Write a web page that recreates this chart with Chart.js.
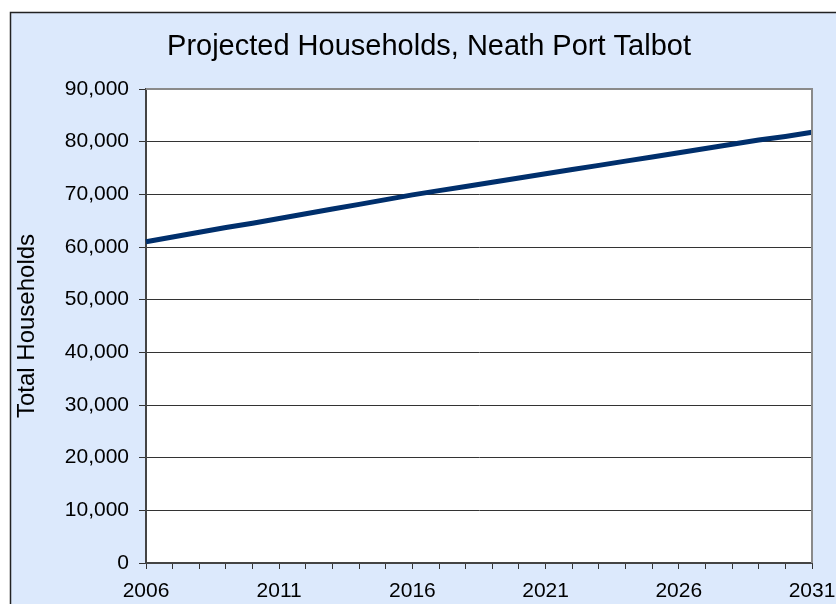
<!DOCTYPE html>
<html>
<head>
<meta charset="utf-8">
<script src="https://cdn.jsdelivr.net/npm/chart.js@4/dist/chart.umd.min.js"></script>
<style>
  html, body { margin: 0; padding: 0; background: #fff; }
  #wrap { width: 836px; height: 604px; }
</style>
</head>
<body>
<div id="wrap"><canvas id="chart" width="836" height="604"></canvas></div>
<script>
// years along the x axis
const years = [
  '2006', '2007', '2008', '2009', '2010', '2011', '2012', '2013', '2014',
  '2015', '2016', '2017', '2018', '2019', '2020', '2021', '2022', '2023',
  '2024', '2025', '2026', '2027', '2028', '2029', '2030', '2031'
];
// projected households
const households = [
  61000, 61900, 62800, 63700, 64500, 65400, 66300, 67200, 68100,
  69000, 69900, 70700, 71500, 72300, 73100, 73900, 74700, 75500,
  76300, 77100, 77900, 78700, 79500, 80300, 81000, 81800
];
// years that get a label under the axis
const labelledYears = ['2006', '2011', '2016', '2021', '2026', '2031'];

const FONT = "'Liberation Sans', Arial, sans-serif";

// blue frame behind the chart, white plot area, top/right plot border
const frame = {
  id: 'frame',
  beforeDraw(chart) {
    const c = chart.ctx;
    const a = chart.chartArea;
    c.save();
    c.fillStyle = '#fff';
    c.fillRect(0, 0, chart.width, chart.height);
    c.fillStyle = '#dce9fc';
    c.fillRect(10, 12, chart.width - 10, chart.height - 12);
    c.strokeStyle = '#222';
    c.lineWidth = 1.5;
    c.beginPath();
    c.moveTo(10.5, chart.height);
    c.lineTo(10.5, 12.5);
    c.lineTo(chart.width, 12.5);
    c.stroke();
    c.fillStyle = '#fff';
    c.fillRect(a.left, a.top, a.right - a.left, a.bottom - a.top);
    c.restore();
  },
  afterDraw(chart) {
    const c = chart.ctx;
    const a = chart.chartArea;
    c.save();
    c.strokeStyle = '#8a8a8a';
    c.lineWidth = 2;
    c.beginPath();
    c.moveTo(a.left, a.top);
    c.lineTo(a.right, a.top);
    c.lineTo(a.right, a.bottom);
    c.stroke();
    c.restore();
  }
};

new Chart(document.getElementById('chart'), {
  type: 'line',
  data: {
    labels: years,
    datasets: [{
      label: 'Total Households',
      data: households,
      borderColor: '#002f6c',
      borderWidth: 5,
      pointRadius: 0,
      tension: 0,
      fill: false
    }]
  },
  options: {
    responsive: false,
    animation: false,
    layout: { padding: { left: 22, right: 0, top: 12, bottom: 0 } },
    plugins: {
      legend: { display: false },
      tooltip: { enabled: false },
      title: {
        display: true,
        text: 'Projected Households, Neath Port Talbot',
        color: '#000',
        font: { family: FONT, size: 29, weight: 'normal' },
        padding: { top: 17.5, bottom: 24.7 }
      }
    },
    scales: {
      x: {
        grid: { drawOnChartArea: false, drawTicks: true, tickLength: 6, color: '#333' },
        border: { color: '#444', width: 2 },
        ticks: {
          autoSkip: false,
          maxRotation: 0,
          padding: 10,
          color: '#000',
          font: { family: FONT, size: 21 },
          callback: function(v) {
            const y = this.getLabelForValue(v);
            return labelledYears.includes(y) ? y : '';
          }
        },
        afterFit: s => {
          s.height = 41;
          s.paddingLeft = 0;
          s.paddingRight = 0;
        }
      },
      y: {
        min: 0,
        max: 90000,
        grid: { color: '#333', lineWidth: 1, tickLength: 7 },
        border: { color: '#444', width: 2 },
        ticks: {
          stepSize: 10000,
          padding: 10,
          color: '#000',
          font: { family: FONT, size: 21 },
          callback: v => v.toLocaleString('en-US')
        },
        title: {
          display: true,
          text: 'Total Households',
          color: '#000',
          font: { family: FONT, size: 24 },
          padding: { top: -9, bottom: 0 }
        },
        afterFit: s => { s.width = 124; }
      },
      // empty axis that only keeps room on the right
      y2: {
        position: 'right',
        display: true,
        grid: { display: false },
        border: { display: false },
        ticks: { display: false },
        afterFit: s => { s.width = 24; }
      }
    }
  },
  plugins: [frame]
});
</script>
</body>
</html>
